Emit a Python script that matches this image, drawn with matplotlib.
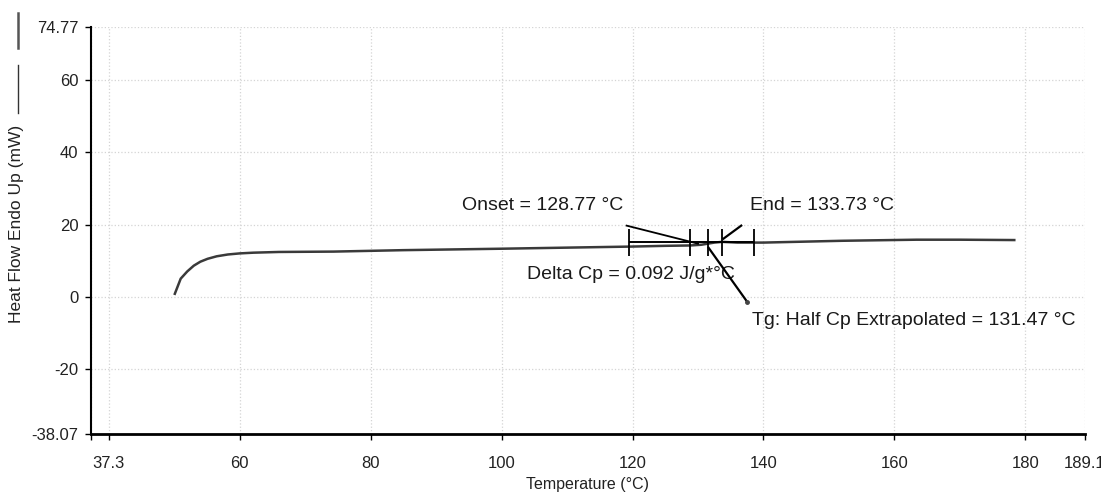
import matplotlib
matplotlib.use('Agg')
from matplotlib import pyplot as plt
from matplotlib.transforms import ScaledTranslation

# DSC trace
temperature = [50.1, 51.0, 52.0, 53.0, 54.0, 55.1, 56.5, 58.2, 60.0, 62.1, 66.0, 74.3,
               85.0, 100.0, 110.0, 120.0, 125.0, 128.8, 130.5, 131.5, 132.5, 133.7,
               136.0, 140.0, 149.6, 152.0, 163.4, 170.0, 178.3]
heat_flow = [0.8, 5.0, 7.0, 8.6, 9.7, 10.5, 11.2, 11.7, 12.0, 12.2, 12.4, 12.5,
             12.9, 13.3, 13.6, 13.9, 14.1, 14.2, 14.4, 14.7, 15.0, 15.2,
             15.0, 15.0, 15.4, 15.5, 15.8, 15.8, 15.7]

# glass transition analysis
onset_t = 128.77
tg_t = 131.47
end_t = 133.73
range_t = [119.5, 138.5]
bracket_y = 15.3
onset_line = ([119.1, 130.0], [19.7, 14.7])
end_line = ([133.9, 136.6], [16.1, 19.7])
tg_line = ([131.6, 137.5], [13.6, -1.4])

xticks = [37.3, 60, 80, 100, 120, 140, 160, 180, 189.1]
xtick_labels = ['37.3', '60', '80', '100', '120', '140', '160', '180', '189.1']
yticks = [-38.07, -20, 0, 20, 40, 60, 74.77]
ytick_labels = ['-38.07', '-20', '0', '20', '40', '60', '74.77']

plt.rcParams['font.family'] = ['Liberation Sans', 'DejaVu Sans']

fig = plt.figure(figsize=(11.01, 4.96), dpi=100)
ax = fig.add_axes([91 / 1101, 62 / 496, 994 / 1101, 407 / 496])

ax.plot(temperature, heat_flow, color='#3a3a3a', lw=1.8, zorder=3)

# analysis overlay
ax.hlines(bracket_y, range_t[0], range_t[1], color='black', lw=1.4, zorder=4)
ax.vlines(range_t + [onset_t, tg_t, end_t], 11.4, 18.9, color='black', lw=1.3, zorder=4)
ax.plot(*onset_line, color='black', lw=1.3, zorder=4)
ax.plot(*end_line, color='black', lw=1.6, zorder=4)
ax.plot(*tg_line, color='black', lw=1.6, zorder=4)
ax.plot(tg_line[0][1], tg_line[1][1], 'o', color='#444444', ms=2.5, zorder=4)

ann = dict(fontsize=14, color='#1a1a1a', va='center', ha='left')
ax.text(94.0, 25.3, f'Onset = {onset_t:.2f} °C', **ann)
ax.text(138.0, 25.3, f'End = {end_t:.2f} °C', **ann)
ax.text(103.9, 6.1, 'Delta Cp = 0.092 J/g*°C', **ann)
ax.text(138.2, -6.7, f'Tg: Half Cp Extrapolated = {tg_t:.2f} °C', **ann)

ax.set_xlim(37.3, 189.1)
ax.set_ylim(-38.07, 74.77)
ax.set_xticks(xticks)
ax.set_xticklabels(xtick_labels)
ax.set_xticks([40], minor=True)
ax.set_yticks(yticks)
ax.set_yticklabels(ytick_labels)
ax.tick_params(which='both', direction='out', length=4, width=1, labelsize=12,
               labelcolor='#222222')
ax.tick_params(axis='x', pad=12)
ax.tick_params(axis='y', pad=5)
# the first label sits on the 40 gridline in the original
lbl = ax.get_xticklabels()[0]
lbl.set_transform(lbl.get_transform() + ScaledTranslation(0.17, 0, fig.dpi_scale_trans))

ax.grid(True, which='both', color='#d4d4d4', linestyle=':', lw=0.9, zorder=0)
for side in ['top', 'right']:
    ax.spines[side].set_visible(False)
ax.spines['left'].set_linewidth(1.5)
ax.spines['bottom'].set_linewidth(2)

ax.set_xlabel('Temperature (°C)', fontsize=11.5, color='#222222', labelpad=4)
fig.text(17 / 1101, 1 - 224 / 496, 'Heat Flow Endo Up (mW)', rotation=90,
         ha='center', va='center', fontsize=12.5, color='#222222')
fig.add_artist(plt.Line2D([18 / 1101] * 2, [1 - 113 / 496, 1 - 65 / 496],
                          color='#333333', lw=1))
fig.add_artist(plt.Line2D([18 / 1101] * 2, [1 - 48 / 496, 1 - 13 / 496],
                          color='#555555', lw=1.8))

fig.savefig('out.png', dpi=100)
